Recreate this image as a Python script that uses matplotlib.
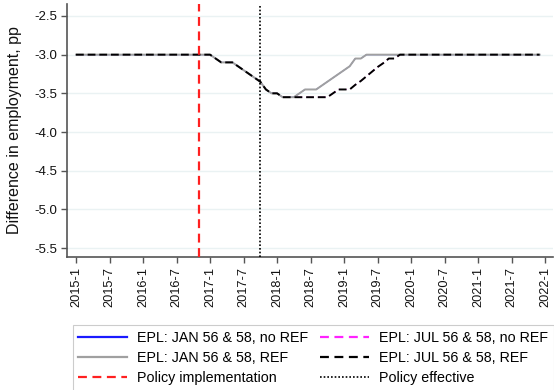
import numpy as np
import matplotlib
matplotlib.use("Agg")
import matplotlib.pyplot as plt
from matplotlib.lines import Line2D

plt.rcParams["font.family"] = ["Liberation Sans", "DejaVu Sans"]

# months since 2015-1
months = np.arange(0, 84)

common = [-3.0] * 25 + [-3.05, -3.1, -3.1, -3.1, -3.15, -3.2, -3.25, -3.3, -3.35,
                        -3.45, -3.5, -3.5, -3.55, -3.55, -3.55]
jan_ref = common + [-3.5, -3.45, -3.45, -3.45, -3.4, -3.35, -3.3, -3.25, -3.2, -3.15,
                    -3.05, -3.05] + [-3.0] * 32
jul_ref = common + [-3.55, -3.55, -3.55, -3.55, -3.55, -3.55, -3.5, -3.45, -3.45, -3.45,
                    -3.39, -3.34, -3.28, -3.22, -3.16, -3.11, -3.05, -3.05] + [-3.0] * 26
jan_noref = jan_ref
jul_noref = jul_ref

policy_impl = 22   # 2016-11
policy_eff = 33    # 2017-10

tick_pos = np.arange(0, 85, 6)
tick_labels = [f"{2015 + p // 12}-{p % 12 + 1}" for p in tick_pos]
yticks = [-2.5, -3.0, -3.5, -4.0, -4.5, -5.0, -5.5]

fig = plt.figure(figsize=(5.54, 3.9), dpi=100)
ax = fig.add_axes([67 / 554, 1 - 257 / 390, (553 - 67) / 554, (257 - 4) / 390])

for y in yticks:
    ax.axhline(y, color="#eaf2f3", lw=1.0, zorder=0)

# no-REF series lie underneath the REF ones (dashes aligned with the black ones)
ax.plot(months, jan_noref, color="#1a1aff", lw=0.7, zorder=2)
ax.plot(months, jul_noref, color="#ff22ff", lw=0.7, dashes=(8, 4), zorder=2)
ax.plot(months, jan_ref, color="#a0a0a0", lw=1.4, zorder=3)
ax.plot(months, jul_ref, color="black", lw=1.4, dashes=(4, 2), zorder=4)

ax.axvline(policy_impl, color="#ff2020", lw=1.6, dashes=(4, 2.5), zorder=5)
ax.axvline(policy_eff, color="black", lw=1.2, dashes=(1, 1.2), zorder=5)

ax.set_xlim(-1.61, 85.4)
ax.set_ylim(-5.616, -2.345)
ax.set_xticks(tick_pos)
ax.set_xticklabels(tick_labels, rotation=90, fontsize=9.2)
ax.set_yticks(yticks)
ax.set_yticklabels([f"{v:.1f}" for v in yticks], fontsize=9.5)
ax.tick_params(axis="both", direction="out", length=4, width=1, color="#555555",
               labelcolor="#111111", pad=3)
ax.set_ylabel("Difference in employment, pp", fontsize=11.5, color="#111111")
ax.yaxis.set_label_coords(-0.093, 0.5)

for side in ["top", "right"]:
    ax.spines[side].set_visible(False)
for side in ["left", "bottom"]:
    ax.spines[side].set_color("#555555")
    ax.spines[side].set_linewidth(1.2)

handles = [
    Line2D([], [], color="#1a1aff", lw=1.6),
    Line2D([], [], color="#a0a0a0", lw=1.6),
    Line2D([], [], color="#ff2020", lw=1.6, dashes=(4, 2.5)),
    Line2D([], [], color="#ff22ff", lw=1.6, dashes=(4, 2.5)),
    Line2D([], [], color="black", lw=1.6, dashes=(4, 2.5)),
    Line2D([], [], color="black", lw=1.2, dashes=(1, 1.2)),
]
labels = [
    "EPL: JAN 56 & 58, no REF",
    "EPL: JAN 56 & 58, REF",
    "Policy implementation",
    "EPL: JUL 56 & 58, no REF",
    "EPL: JUL 56 & 58, REF",
    "Policy effective",
]
leg = fig.legend(handles, labels, ncol=2, loc="upper left",
                 bbox_to_anchor=(72.7 / 554, 1 - 325 / 390), borderaxespad=0,
                 fontsize=10.3, handlelength=3.4, handletextpad=0.7,
                 columnspacing=0.84, labelspacing=0.44, borderpad=0.4,
                 frameon=True, fancybox=False, framealpha=1)
leg.get_frame().set_edgecolor("#cccccc")
leg.get_frame().set_linewidth(0.8)

fig.savefig("out.png", dpi=100)
